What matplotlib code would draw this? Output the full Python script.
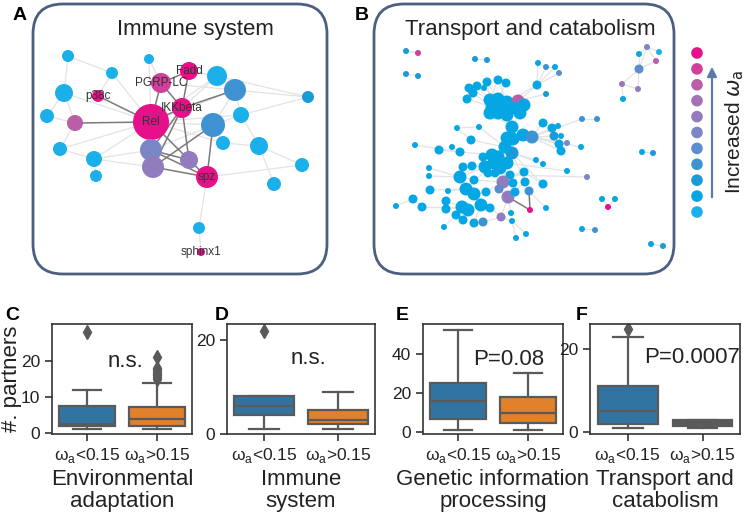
import numpy as np
import matplotlib
matplotlib.use('Agg')
import matplotlib.pyplot as plt
from matplotlib.patches import FancyBboxPatch

plt.rcParams['font.family'] = ['Liberation Sans', 'DejaVu Sans']
plt.rcParams['mathtext.fontset'] = 'dejavusans'

# ── colour scale for omega_a (low -> high) ──
levels = ['#1cb0ea', '#04a7e4', '#1a9bd6', '#3f93d2', '#5c8dcf', '#7a86c6',
          '#917cbd', '#a570b4', '#b95fa8', '#d03f99', '#e5108a']

# ── network A (immune system), positions in figure pixels ──
a_x = [68, 149, 112, 189, 161, 217, 235, 64, 98, 308, 182, 47, 241, 75, 151,
       213, 151, 223, 259, 60, 94, 189, 153, 207, 302, 96, 274, 199, 201]
a_y = [56, 59, 73, 71, 83, 76, 90, 93, 96, 97, 108, 116, 115, 123, 122,
       125, 150, 143, 146, 149, 159, 160, 167, 177, 165, 176, 184, 228, 252]
a_r = [6, 5, 6, 9, 10, 10, 11, 9, 6, 6, 10, 7, 8, 8, 18,
       12, 11, 7, 9, 7, 8, 9, 11, 11, 7, 6, 7, 6, 4]
a_lvl = [0, 0, 0, 10, 9, 0, 3, 0, 10, 2, 10, 0, 0, 8, 10,
         3, 5, 0, 0, 0, 0, 6, 6, 10, 0, 0, 0, 0, 10]
a_labels = {3: 'Fadd', 4: 'PGRP-LC', 8: 'p38c', 10: 'IKKbeta', 14: 'Rel',
            23: 'spz', 28: 'sphinx1'}
a_dark = [(14, 8), (14, 13), (14, 10), (14, 4), (14, 21), (10, 6), (10, 3),
          (10, 16), (10, 22), (4, 3), (16, 23), (22, 23), (16, 21), (15, 23),
          (15, 22), (10, 21), (21, 23), (4, 10)]
a_light = [(0, 7), (7, 14), (2, 14), (7, 11), (11, 13), (7, 13), (19, 14),
           (19, 20), (20, 14), (25, 20), (20, 16), (1, 4), (1, 14), (5, 6),
           (6, 9), (5, 9), (6, 12), (12, 15), (15, 17), (17, 18), (18, 24),
           (18, 26), (23, 24), (23, 27), (27, 28), (14, 15), (14, 12),
           (14, 6), (15, 16), (5, 10), (3, 5), (4, 6), (12, 18), (13, 19),
           (14, 5), (6, 15), (12, 9), (0, 2), (2, 8), (14, 17), (20, 22)]

# ── network B (transport and catabolism) ──
b_x = [406, 418, 406, 418, 475, 487, 639, 647, 659, 656, 639, 622, 638, 623,
       538, 546, 555, 559, 537, 546, 498, 506, 487, 477, 469, 484, 473, 467,
       490, 498, 507, 518, 524, 492, 502, 513, 490, 498, 507, 520, 512, 507,
       513, 523, 532, 543, 552, 558, 554, 561, 559, 567, 561, 581, 582, 597,
       457, 479, 471, 415, 452, 439, 460, 512, 505, 492, 498, 483, 494, 507,
       500, 485, 472, 463, 488, 495, 510, 536, 543, 524, 567, 587, 429, 429,
       460, 474, 503, 513, 525, 543, 499, 508, 515, 529, 530, 430, 448, 466,
       474, 486, 413, 396, 422, 446, 446, 462, 468, 481, 490, 456, 463, 474,
       483, 501, 512, 511, 546, 444, 516, 526, 602, 615, 608, 582, 595, 642,
       653, 651, 663]
b_y = [51, 53, 74, 76, 59, 60, 54, 47, 52, 61, 69, 84, 89, 99,
       63, 67, 67, 73, 85, 94, 80, 83, 82, 86, 88, 88, 93, 99,
       100, 99, 102, 101, 105, 107, 107, 108, 113, 113, 115, 113, 127, 138,
       139, 135, 137, 123, 128, 126, 136, 136, 144, 143, 151, 147, 119, 119,
       128, 127, 140, 145, 147, 150, 152, 153, 147, 155, 157, 157, 163, 163,
       168, 167, 166, 167, 173, 173, 175, 160, 164, 172, 171, 177, 168, 176,
       177, 180, 182, 183, 182, 184, 189, 197, 192, 191, 210, 190, 191, 189,
       194, 192, 199, 206, 207, 201, 209, 207, 210, 205, 208, 215, 220, 223,
       222, 217, 221, 213, 208, 227, 238, 234, 199, 199, 207, 229, 230, 152,
       153, 244, 246]
b_size = [1, 1, 1, 1, 1, 1, 1, 1, 1, 1, 2, 1, 1, 1,
          1, 1, 1, 1, 2, 1, 2, 2, 2, 2, 2, 1, 2, 2,
          3, 3, 3, 3, 3, 3, 3, 3, 3, 3, 3, 3, 3, 3,
          3, 3, 3, 2, 2, 1, 2, 1, 2, 1, 2, 1, 1, 1,
          1, 1, 2, 1, 1, 2, 2, 3, 3, 3, 3, 2, 3, 3,
          3, 3, 2, 2, 2, 2, 2, 1, 1, 2, 1, 1, 1, 1,
          3, 2, 3, 2, 2, 2, 2, 3, 2, 2, 1, 2, 1, 3,
          3, 2, 2, 1, 2, 2, 2, 3, 3, 3, 2, 2, 2, 2,
          2, 2, 1, 1, 1, 1, 1, 1, 1, 1, 1, 1, 1, 1,
          1, 1, 1]
b_lvl = [2, 9, 2, 2, 2, 2, 1, 5, 0, 8, 4, 7, 6, 1,
         1, 3, 1, 4, 1, 2, 1, 1, 1, 1, 1, 1, 1, 1,
         1, 1, 1, 8, 1, 1, 1, 1, 1, 1, 1, 1, 1, 1,
         1, 1, 3, 1, 1, 1, 2, 1, 1, 5, 1, 1, 3, 3,
         1, 1, 1, 1, 1, 1, 1, 2, 1, 1, 1, 1, 1, 1,
         1, 1, 1, 1, 1, 1, 1, 1, 1, 1, 1, 5, 1, 1,
         1, 1, 6, 1, 1, 1, 4, 6, 1, 3, 10, 1, 1, 1,
         1, 1, 1, 1, 1, 1, 1, 1, 1, 1, 1, 1, 1, 1,
         3, 6, 1, 1, 1, 1, 1, 1, 1, 1, 10, 1, 3, 1,
         2, 1, 2]
b_dark = [(91, 94), (93, 94)]
b_light = [(0, 1), (2, 3), (4, 5), (6, 7), (7, 8), (7, 9), (7, 10), (9, 10),
           (6, 10), (10, 11), (10, 12), (11, 12), (11, 13), (14, 18), (15, 18),
           (16, 18), (17, 18), (14, 15), (15, 16), (18, 31), (19, 31), (18, 30),
           (20, 28), (21, 29), (22, 28), (23, 28), (24, 27), (25, 29), (26, 33),
           (27, 33), (20, 30), (22, 29), (28, 31), (29, 31), (30, 31), (32, 31),
           (33, 36), (34, 37), (35, 38), (36, 40), (37, 40), (38, 40), (39, 40),
           (40, 41), (40, 42), (40, 43), (43, 44), (44, 45), (44, 46), (44, 47),
           (44, 48), (44, 49), (44, 50), (44, 51), (44, 52), (44, 53), (44, 54),
           (54, 55), (41, 64), (42, 63), (63, 65), (63, 66), (64, 65), (65, 68),
           (66, 69), (68, 70), (69, 70), (70, 74), (70, 75), (70, 76), (57, 64),
           (56, 58), (58, 64), (59, 62), (60, 62), (61, 62), (62, 65), (67, 68),
           (71, 72), (72, 73), (73, 84), (71, 84), (76, 79), (79, 86), (77, 63),
           (78, 63), (80, 69), (81, 76), (82, 84), (83, 84), (84, 85), (85, 86),
           (86, 87), (86, 90), (87, 91), (88, 91), (89, 79), (90, 91), (91, 92),
           (95, 97), (96, 97), (97, 98), (98, 99), (99, 86), (100, 102),
           (101, 100), (102, 105), (103, 105), (104, 105), (105, 106), (106, 107),
           (107, 108), (108, 113), (109, 105), (110, 106), (111, 107), (112, 113),
           (113, 91), (114, 113), (115, 91), (116, 93), (117, 109), (118, 114),
           (119, 114), (120, 122), (121, 122), (123, 124), (125, 126), (127, 128),
           (28, 24), (57, 56), (68, 97), (69, 86), (65, 84), (63, 88), (63, 89)]

# ── box plot summaries: [low, high] omega_a groups ──
panels = ['C', 'D', 'E', 'F']
xlabels = ['Environmental\nadaptation', 'Immune\nsystem',
           'Genetic information\nprocessing', 'Transport and\ncatabolism']
box_lo = [[1, 2, 2.5, 7.5, 12], [1, 4, 6, 8, 8], [1, 7, 16, 25, 52], [1, 2, 5, 11, 23]]
box_hi = [[1, 2, 4, 7.2, 14], [1, 2, 3, 5, 9], [1, 5, 10, 18, 30], [1, 1.5, 2, 3, 3]]
fliers_lo = [[28], [22], [], [25]]
fliers_hi = [[15, 15.5, 16, 16.5, 17, 17.5, 18, 21], [], [], []]
annot = ['n.s.', 'n.s.', 'P=0.08', 'P=0.0007']
annot_xy = [(0.55, 20), (0.6, 16), (0.72, 37), (0.86, 18)]
ylims = [(-0.3, 30.3), (-0.1, 23.5), (-0.8, 55), (-0.5, 26.1)]
yticks = [[0, 10, 20], [0, 20], [0, 20, 40], [0, 20]]
tick_names = ['ω$_\\mathregular{a}$<0.15', 'ω$_\\mathregular{a}$>0.15']

W, H = 750, 517
fig = plt.figure(figsize=(7.5, 5.17), dpi=100)

# full-figure overlay in pixel units for the two network panels
ov = fig.add_axes([0, 0, 1, 1])
ov.set_xlim(0, W)
ov.set_ylim(H, 0)
ov.axis('off')


def px_to_s(r):
    return (2 * r * 0.72) ** 2


def draw_net(xs, ys, radii, lvls, light, dark):
    for i, j in light:
        ov.plot([xs[i], xs[j]], [ys[i], ys[j]], color='#e3e3e3', lw=0.9, zorder=1)
    for i, j in dark:
        ov.plot([xs[i], xs[j]], [ys[i], ys[j]], color='#7a7a7a', lw=1.1, zorder=2)
    ov.scatter(xs, ys, s=[px_to_s(r) for r in radii],
               c=[levels[l] for l in lvls], linewidths=0, zorder=3)


for (x0, x1) in [(33, 327), (374, 674)]:
    ov.add_patch(FancyBboxPatch((x0, 4), x1 - x0, 270,
                                boxstyle='round,pad=0,rounding_size=30',
                                fc='none', ec='#4b5f80', lw=2.0, zorder=0))

draw_net(a_x, a_y, a_r, a_lvl, a_light, a_dark)
for k, name in a_labels.items():
    ov.text(a_x[k], a_y[k], name, ha='center', va='center', fontsize=8.5,
            color='#333333', zorder=4)

b_r = [{1: 3, 2: 4.5, 3: 6.5}[s] for s in b_size]
draw_net(b_x, b_y, b_r, b_lvl, b_light, b_dark)

ov.text(195, 29, 'Immune system', ha='center', va='center', fontsize=16, color='#222222')
ov.text(530, 29, 'Transport and catabolism', ha='center', va='center', fontsize=16,
        color='#222222')
ov.text(20, 15, 'A', ha='center', va='center', fontsize=14, fontweight='bold')
ov.text(362, 15, 'B', ha='center', va='center', fontsize=14, fontweight='bold')

# omega_a colour legend
leg_y = np.linspace(212, 53, len(levels))
ov.scatter([697] * len(levels), leg_y, s=px_to_s(5.8), c=levels, linewidths=0)
ov.annotate('', xy=(712, 64), xytext=(712, 200),
            arrowprops=dict(arrowstyle='-|>', color='#5a7ca8', lw=1.6,
                            mutation_scale=14))
ov.text(735, 132, r'Increased $\omega_\mathrm{a}$', rotation=90, ha='center',
        va='center', fontsize=15, color='#222222')

# ── box plots ──
ax_px = [(52, 192), (227, 375), (423, 563), (590, 740)]
letter_x = [12, 222, 402, 582]
top_px, bot_px = 324, 434
box_cols = ['#3274a1', '#e1812c']
line_col = '#5a5a5a'

for k in range(4):
    l, r = ax_px[k]
    ax = fig.add_axes([l / W, 1 - bot_px / H, (r - l) / W, (bot_px - top_px) / H])
    stats = []
    for vals, fl in [(box_lo[k], fliers_lo[k]), (box_hi[k], fliers_hi[k])]:
        stats.append(dict(whislo=vals[0], q1=vals[1], med=vals[2], q3=vals[3],
                          whishi=vals[4], fliers=fl))
    bp = ax.bxp(stats, positions=[0, 1], widths=0.8, patch_artist=True,
                capwidths=0.4,
                boxprops=dict(ec=line_col, lw=1.6),
                medianprops=dict(color=line_col, lw=1.6),
                whiskerprops=dict(color=line_col, lw=1.6),
                capprops=dict(color=line_col, lw=1.6),
                flierprops=dict(marker='d', mfc=line_col, mec=line_col, ms=7))
    for patch, col in zip(bp['boxes'], box_cols):
        patch.set_facecolor(col)
    if k == 3:
        bp['boxes'][1].set_facecolor(line_col)
    ax.set_xlim(-0.5, 1.5)
    ax.set_ylim(*ylims[k])
    ax.set_yticks(yticks[k])
    ax.set_xticks([0, 1])
    ax.set_xticklabels(tick_names, fontsize=12.5, color='#222222')
    ax.tick_params(axis='y', labelsize=12.5, colors='#222222')
    ax.tick_params(length=5, width=1.2, color='#333333')
    for sp in ax.spines.values():
        sp.set_color('#333333')
        sp.set_linewidth(1.2)
    ax.set_xlabel(xlabels[k], fontsize=16, color='#222222', labelpad=3,
                  linespacing=1.05)
    ax.text(annot_xy[k][0], annot_xy[k][1], annot[k], ha='center', va='center',
            fontsize=16, color='#222222')
    if k == 0:
        ax.set_ylabel('#. partners', fontsize=16, color='#222222', labelpad=-1)
    fig.text(letter_x[k] / W, 1 - 315 / H, panels[k], ha='center', va='center',
             fontsize=14, fontweight='bold')

fig.savefig('out.png', dpi=100)
